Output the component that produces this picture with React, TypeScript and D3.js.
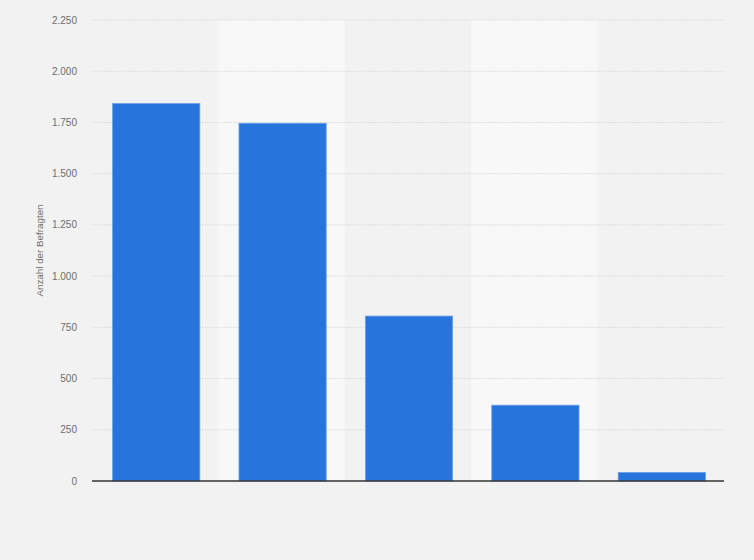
import React from "react";
import * as d3 from "d3";

const categories = ["Kategorie 1", "Kategorie 2", "Kategorie 3", "Kategorie 4", "Kategorie 5"];
const values = [1842, 1746, 805, 370, 42];
const yTicks = [0, 250, 500, 750, 1000, 1250, 1500, 1750, 2000, 2250];
const yTitle = "Anzahl der Befragten";

const W = 754;
const H = 560;
const M = { left: 92, right: 30, top: 20, bottom: 79 };

const fmt = (v: number) => d3.format(",")(v).replace(/,/g, ".");

export default function App() {
  const x = d3
    .scaleBand<string>()
    .domain(categories)
    .range([M.left + 1, W - M.right + 1])
    .paddingInner(0.31)
    .paddingOuter(0.155);
  const bandBg = d3.scaleBand<string>().domain(categories).range([M.left, W - M.right]).padding(0);
  const y = d3.scaleLinear().domain([0, 2250]).range([H - M.bottom, M.top]);

  return (
    <svg
      width={W}
      height={H}
      style={{ position: "absolute", left: 0, top: 0, display: "block", fontFamily: "Arial, 'Liberation Sans', sans-serif" }}
    >
      <rect x={0} y={0} width={W} height={H} fill="#f2f2f2" />
      {categories.map((c, i) =>
        i % 2 === 1 ? (
          <rect key={c} x={bandBg(c)} y={y(2250)} width={bandBg.bandwidth()} height={y(0) - y(2250)} fill="#f8f8f8" />
        ) : null
      )}
      {yTicks.map((t) => (
        <g key={t}>
          {t > 0 && (
            <line
              x1={M.left}
              x2={W - M.right}
              y1={y(t)}
              y2={y(t)}
              stroke="#d6d6d6"
              strokeWidth={1}
              strokeDasharray="1.2,1.2"
            />
          )}
          <text x={77} y={y(t)} dy="0.35em" textAnchor="end" fontSize={10} fill="#6e6e6e">
            {fmt(t)}
          </text>
        </g>
      ))}
      {categories.map((c, i) => (
        <rect
          key={c}
          x={x(c)}
          y={y(values[i])}
          width={x.bandwidth()}
          height={y(0) - y(values[i])}
          fill="#2775db"
          stroke="#6a9fe8"
          strokeWidth={0.8}
        />
      ))}
      <line x1={M.left} x2={W - M.right} y1={y(0)} y2={y(0)} stroke="#333" strokeWidth={1.3} />
      <text
        transform={`translate(43, ${(y(0) + y(2250)) / 2}) rotate(-90)`}
        textAnchor="middle"
        fontSize={9.8}
        fill="#6e6e6e"
      >
        {yTitle}
      </text>
    </svg>
  );
}
